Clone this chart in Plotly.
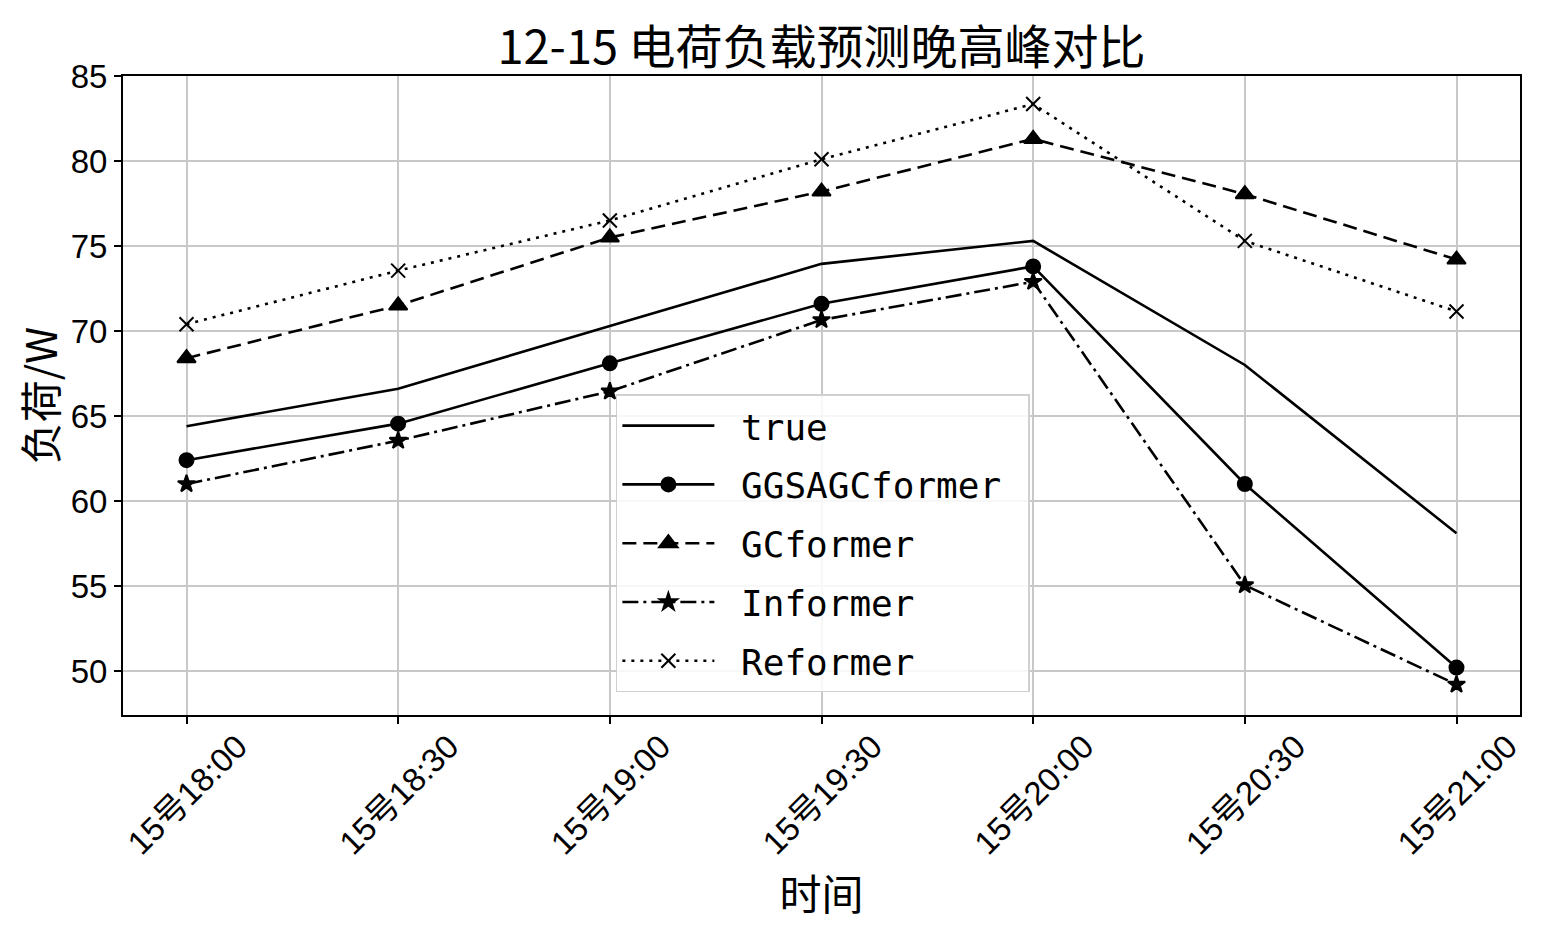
import plotly.graph_objects as go

# x categories
time_labels = ["15号18:00", "15号18:30", "15号19:00", "15号19:30",
               "15号20:00", "15号20:30", "15号21:00"]

# series values
true_vals = [64.4, 66.6, 70.3, 73.95, 75.3, 68.0, 58.1]
ggsagc_vals = [62.4, 64.55, 68.1, 71.6, 73.8, 61.0, 50.2]
gcformer_vals = [68.4, 71.5, 75.5, 78.2, 81.3, 78.05, 74.2]
informer_vals = [61.0, 63.55, 66.45, 70.65, 72.9, 55.05, 49.2]
reformer_vals = [70.4, 73.55, 76.5, 80.1, 83.35, 75.3, 71.15]

y_ticks = [50, 55, 60, 65, 70, 75, 80, 85]

CJK = "Noto Sans CJK SC"
TICK_FONT = "Liberation Sans, Noto Sans CJK SC"
MONO = "DejaVu Sans Mono, Noto Sans CJK SC"

x_idx = list(range(len(time_labels)))

series = [
    ("true", true_vals, "solid", None, 0),
    ("GGSAGCformer", ggsagc_vals, "solid", "circle", 14),
    ("GCformer", gcformer_vals, "14px,7px", "triangle-up", 16),
    ("Informer", informer_vals, "16px,5px,3px,5px", "star", 13),
    ("Reformer", reformer_vals, "3px,6px", "x-thin", 14),
]

fig = go.Figure()
for name, vals, dash, symbol, msize in series:
    fig.add_trace(
        go.Scatter(
            x=x_idx,
            y=vals,
            name="\u00a0" + name + "\u00a0",
            legendgroup=name,
            mode="lines+markers" if symbol else "lines",
            line=dict(color="black", width=2.6, dash=dash),
            marker=dict(
                symbol=symbol or "circle",
                size=msize,
                color="black",
                line=dict(color="black", width=2),
            ),
        )
    )

# page renders ~8px offset, so margins are trimmed on top/left
fig.update_layout(
    width=1555,
    height=933,
    paper_bgcolor="white",
    plot_bgcolor="white",
    margin=dict(l=115, r=43, t=68, b=226),
    title=dict(
        text="12-15 电荷负载预测晚高峰对比",
        x=(115 + 1397 / 2) / 1555,
        xanchor="center",
        y=1 - 40 / 933,
        yanchor="middle",
        font=dict(family=CJK, size=47, color="black"),
    ),
    legend=dict(
        x=0.3528,
        xanchor="left",
        y=0.502,
        yanchor="top",
        bgcolor="rgba(255,255,255,0.85)",
        bordercolor="#d0d0d0",
        borderwidth=1.5,
        font=dict(family=MONO, size=36, color="black"),
        itemwidth=92,
        tracegroupgap=9,
    ),
)

fig.update_xaxes(
    range=[-0.3, 6.3],
    tickmode="array",
    tickvals=x_idx,
    ticktext=time_labels,
    tickangle=-45,
    ticklabelshift=51,
    ticklabelstandoff=-10,
    tickfont=dict(family=TICK_FONT, size=33, color="black"),
    ticks="outside",
    ticklen=7,
    tickwidth=1.5,
    tickcolor="black",
    showgrid=True,
    gridcolor="#c8c8c8",
    gridwidth=1.5,
    showline=True,
    linecolor="black",
    linewidth=2,
    mirror=True,
    zeroline=False,
    title=dict(text="时间", font=dict(family=CJK, size=42, color="black"), standoff=0),
)
fig.update_yaxes(
    range=[47.41, 85],
    tickmode="array",
    tickvals=y_ticks,
    tickfont=dict(family=TICK_FONT, size=33, color="black"),
    ticks="outside",
    ticklen=7,
    tickwidth=1.5,
    tickcolor="black",
    showgrid=True,
    gridcolor="#c8c8c8",
    gridwidth=1.5,
    showline=True,
    linecolor="black",
    linewidth=2,
    mirror=True,
    zeroline=False,
    title=dict(text="负荷/W", font=dict(family=CJK, size=42, color="black"), standoff=8),
)

fig.write_html("out.html")
